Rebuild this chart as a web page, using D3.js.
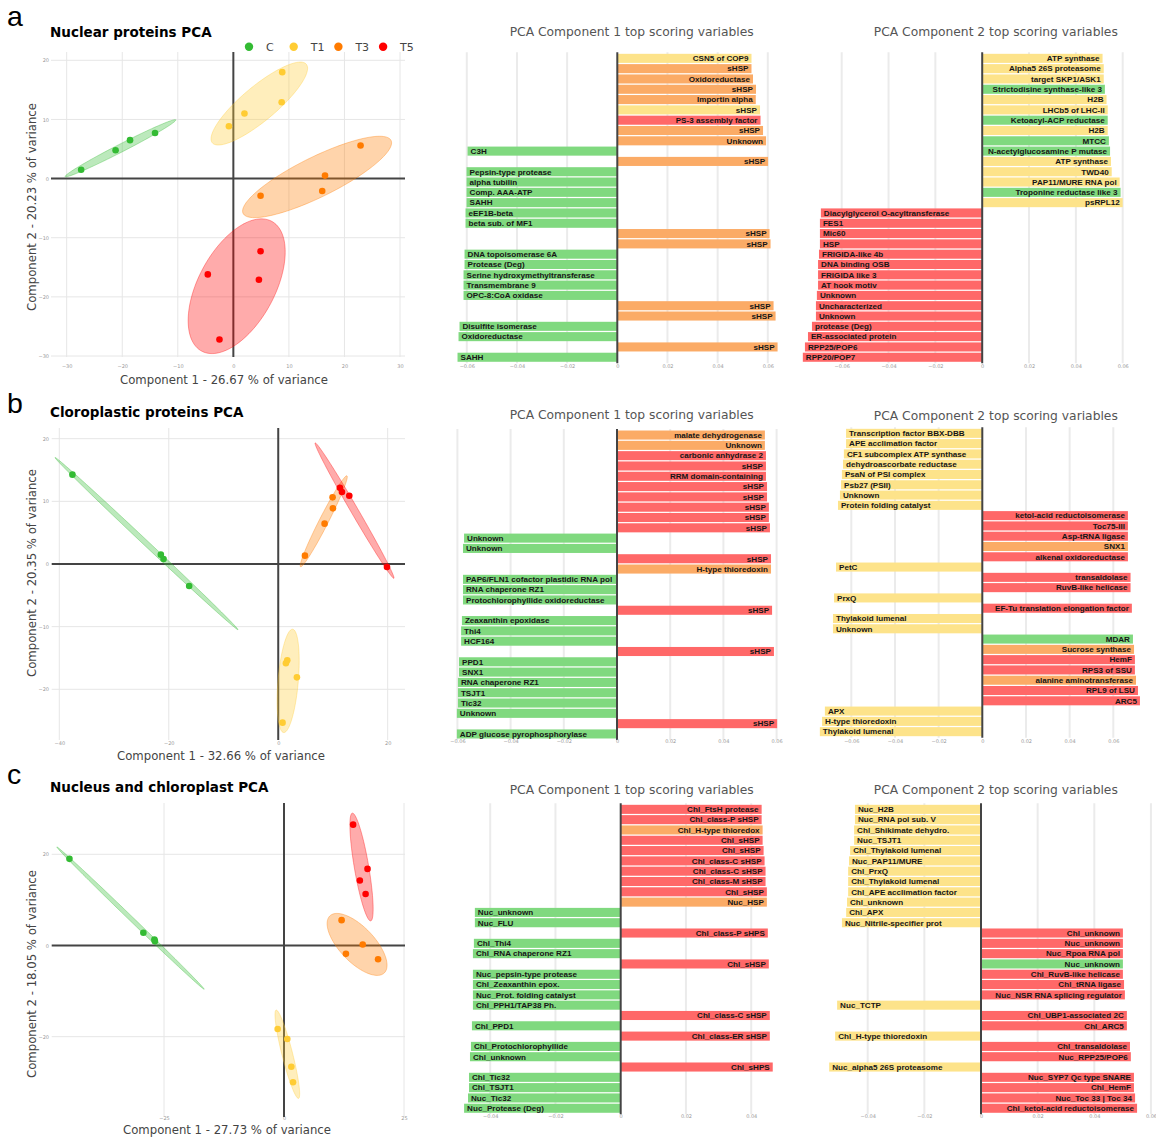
<!DOCTYPE html>
<html>
<head>
<meta charset="utf-8">
<script src="https://cdn.jsdelivr.net/npm/d3@7"></script>
<style>
  body { margin: 0; background: #fff; }
  svg { display: block; }
</style>
</head>
<body>
<svg id="fig" width="1156" height="1138"></svg>
<script>
// ---------- treatment groups ----------
const groupNames = ["C", "T1", "T3", "T5"];
const sampleGroup = ["C","C","C","C","T1","T1","T1","T1","T3","T3","T3","T3","T5","T5","T5","T5"];

// ---------- PCA scores (one value per sample, order as sampleGroup) ----------
const nuclearPC1 = [-27.4,-21.2,-18.6,-14.1, 8.8,8.7,2.0,-0.8, 22.9,16.5,16.0,4.9, 4.9,4.6,-4.6,-2.5];
const nuclearPC2 = [1.5,4.8,6.5,7.7, 18.0,12.9,11.0,8.85, 5.6,0.5,-2.1,-2.9, -12.3,-17.1,-16.2,-27.2];

const chloroPC1 = [-37.6,-21.45,-20.96,-16.27, 1.65,1.40,3.41,0.79, 9.93,9.99,8.47,4.88, 11.27,11.64,12.98,19.87];
const chloroPC2 = [14.26,1.49,0.80,-3.51, -15.37,-15.85,-18.09,-25.32, 10.64,8.88,6.44,1.33, 12.18,11.49,10.9,-0.48];

const combinedPC1 = [-44.7,-29.3,-27.0,-26.9, -1.32,0.69,1.53,1.88, 12.0,16.4,12.9,19.6, 14.4,17.4,15.8,17.0];
const combinedPC2 = [19.0,2.78,1.3,0.95, -18.3,-20.5,-26.6,-30.0, 5.56,0.22,-1.83,-3.0, 26.5,16.8,14.25,11.3];

// ---------- top scoring variables (loadings) ----------
const nucComp1Labels = ["CSN5 of COP9","sHSP","Oxidoreductase","sHSP","Importin alpha","sHSP","PS-3 assembly factor","sHSP","Unknown","C3H","sHSP","Pepsin-type protease","alpha tubilin","Comp. AAA-ATP","SAHH","eEF1B-beta","beta sub. of MF1","sHSP","sHSP","DNA topoisomerase 6A","Protease (Deg)","Serine hydroxymethyltransferase","Transmembrane 9","OPC-8:CoA oxidase","sHSP","sHSP","Disulfite isomerase","Oxidoreductase","sHSP","SAHH"];
const nucComp1Values = [0.0535,0.0535,0.0541,0.0553,0.0552,0.0569,0.0571,0.0581,0.0593,-0.0597,0.0601,-0.0601,-0.0601,-0.0601,-0.0601,-0.0605,-0.0605,0.0607,0.0611,-0.0609,-0.0609,-0.0613,-0.0613,-0.0613,0.0623,0.0631,-0.0629,-0.0633,0.0639,-0.0637];
const nucComp1Groups = ["T1","T3","T3","T3","T3","T1","T5","T3","T3","C","T3","C","C","C","C","C","C","T3","T3","C","C","C","C","C","T3","T3","C","C","T3","C"];

const nucComp2Labels = ["ATP synthase","Alpha5 26S proteasome","target SKP1/ASK1","Strictodisine synthase-like 3","H2B","LHCb5 of LHC-II","Ketoacyl-ACP reductase","H2B","MTCC","N-acetylglucosamine P mutase","ATP synthase","TWD40","PAP11/MURE RNA pol","Troponine reductase like 3","psRPL12","Diacylglycerol O-acyltransferase","FES1","Mic60","HSP","FRIGIDA-like 4b","DNA binding OSB","FRIGIDA like 3","AT hook motiv","Unknown","Uncharacterized","Unknown","protease (Deg)","ER-associated protein","RPP25/POP6","RPP20/POP7"];
const nucComp2Values = [0.0514,0.0519,0.0519,0.0524,0.0531,0.0536,0.0536,0.0536,0.0541,0.0546,0.055,0.0553,0.0587,0.0591,0.060,-0.0689,-0.0693,-0.0693,-0.0693,-0.0697,-0.0701,-0.0701,-0.0701,-0.0706,-0.071,-0.071,-0.0727,-0.0744,-0.0757,-0.0766];
const nucComp2Groups = ["T1","T1","T1","C","T1","T1","C","T1","C","C","T1","T1","T1","C","T1","T5","T5","T5","T5","T5","T5","T5","T5","T5","T5","T5","T5","T5","T5","T5"];

const chlComp1Labels = ["malate dehydrogenase","Unknown","carbonic anhydrase 2","sHSP","RRM domain-containing","sHSP","sHSP","sHSP","sHSP","sHSP","Unknown","Unknown","sHSP","H-type thioredoxin","PAP6/FLN1 cofactor plastidic RNA pol","RNA chaperone RZ1","Protochlorophyllide oxidoreductase","sHSP","Zeaxanthin epoxidase","Thi4","HCF164","sHSP","PPD1","SNX1","RNA chaperone RZ1","TSJT1","Tic32","Unknown","sHSP","ADP glucose pyrophosphorylase"];
const chlComp1Values = [0.0556,0.0556,0.056,0.056,0.056,0.0564,0.0564,0.0571,0.0571,0.0575,-0.0575,-0.0579,0.0579,0.0579,-0.0579,-0.0579,-0.0579,0.0583,-0.0583,-0.0586,-0.0586,0.059,-0.0594,-0.0594,-0.0598,-0.0598,-0.0598,-0.0602,0.0602,-0.0602];
const chlComp1Groups = ["T3","T3","T5","T5","T5","T5","T5","T5","T5","T5","C","C","T5","T3","C","C","C","T5","C","C","C","T5","C","C","C","C","C","C","T5","C"];

const chlComp2Labels = ["Transcription factor BBX-DBB","APE acclimation factor","CF1 subcomplex ATP synthase","dehydroascorbate reductase","PsaN of PSI complex","Psb27 (PSII)","Unknown","Protein folding catalyst","ketol-acid reductoisomerase","Toc75-III","Asp-tRNA ligase","SNX1","alkenal oxidoreductase","PetC","transaldolase","RuvB-like helicase","PrxQ","EF-Tu translation elongation factor","Thylakoid lumenal","Unknown","MDAR","Sucrose synthase","HemF","RPS3 of SSU","alanine aminotransferase","RPL9 of LSU","ARC5","APX","H-type thioredoxin","Thylakoid lumenal"];
const chlComp2Values = [-0.0624,-0.0624,-0.0634,-0.0638,-0.0643,-0.0647,-0.0652,-0.0661,0.0667,0.0667,0.0667,0.0667,0.0667,-0.067,0.0679,0.0679,-0.0679,0.0685,-0.0684,-0.0684,0.069,0.0695,0.0699,0.0699,0.0704,0.0713,0.0722,-0.0721,-0.0734,-0.0744];
const chlComp2Groups = ["T1","T1","T1","T1","T1","T1","T1","T1","T5","T5","T5","T3","T5","T1","T5","T5","T1","T5","T1","T1","C","T3","T5","T5","T3","T5","T5","T1","T1","T1"];

const ncComp1Labels = ["Chl_FtsH protease","Chl_class-P sHSP","Chl_H-type thioredox","Chl_sHSP","Chl_sHSP","Chl_class-C sHSP","Chl_class-C sHSP","Chl_class-M sHSP","Chl_sHSP","Nuc_HSP","Nuc_unknown","Nuc_FLU","Chl_class-P sHPS","Chl_Thi4","Chl_RNA chaperone RZ1","Chl_sHSP","Nuc_pepsin-type protease","Chl_Zeaxanthin epox.","Nuc_Prot. folding catalyst","Chl_PPH1/TAP38 Ph.","Chl_class-C sHSP","Chl_PPD1","Chl_class-ER sHSP","Chl_Protochlorophyllide","Chl_unknown","Chl_sHPS","Chl_Tic32","Chl_TSJT1","Nuc_Tic32","Nuc_Protease (Deg)"];
const ncComp1Values = [0.0432,0.0432,0.0435,0.0435,0.0438,0.0441,0.0444,0.0444,0.0448,0.0448,-0.0447,-0.0447,0.0451,-0.045,-0.0453,0.0454,-0.0453,-0.0453,-0.0453,-0.0453,0.0457,-0.0456,0.0457,-0.0459,-0.0462,0.0466,-0.0465,-0.0465,-0.0468,-0.048];
const ncComp1Groups = ["T5","T5","T3","T5","T5","T5","T5","T5","T5","T3","C","C","T5","C","C","T5","C","C","C","C","T5","C","T5","C","C","T5","C","C","C","C"];

const ncComp2Labels = ["Nuc_H2B","Nuc_RNA pol sub. V","Chl_Shikimate dehydro.","Nuc_TSJT1","Chl_Thylakoid lumenal","Nuc_PAP11/MURE","Chl_PrxQ","Chl_Thylakoid lumenal","Chl_APE acclimation factor","Chl_unknown","Chl_APX","Nuc_Nitrile-specifier prot","Chl_unknown","Nuc_unknown","Nuc_Rpoa RNA pol","Nuc_unknown","Chl_RuvB-like helicase","Chl_tRNA ligase","Nuc_NSR RNA splicing regulator","Nuc_TCTP","Chl_UBP1-associated 2C","Chl_ARC5","Chl_H-type thioredoxin","Chl_transaldolase","Nuc_RPP25/POP6","Nuc_alpha5 26S proteasome","Nuc_SYP7 Qc type SNARE","Chl_HemF","Nuc_Toc 33 | Toc 34","Chl_ketol-acid reductoisomerase"];
const ncComp2Values = [-0.0445,-0.0445,-0.0448,-0.0448,-0.0462,-0.0466,-0.0469,-0.0469,-0.0469,-0.0473,-0.0476,-0.0491,0.0501,0.0501,0.0501,0.0501,0.0501,0.0505,0.0508,-0.0508,0.0515,0.0515,-0.0515,0.0526,0.0529,-0.0536,0.054,0.054,0.0544,0.0551];
const ncComp2Groups = ["T1","T1","T1","T1","T1","T1","T1","T1","T1","T1","T1","T1","T5","T5","T5","C","T5","T5","T5","T1","T5","T5","T1","T5","T5","T1","T5","T5","T5","T5"];

// ---------- axis ticks ----------
const nuclearXTicks = [-30,-20,-10,0,10,20,30];
const nuclearYTicks = [-30,-20,-10,0,10,20];
const chloroXTicks = [-40,-20,0,20];
const chloroYTicks = [-20,-10,0,10,20];
const combinedXTicks = [-25,0,25];
const combinedYTicks = [-20,0,20];
const loadingTicks6 = [-0.06,-0.04,-0.02,0,0.02,0.04,0.06];
const loadingTicksNC1 = [-0.04,-0.02,0,0.02,0.04];
const loadingTicksNC2 = [-0.04,-0.02,0,0.02,0.04,0.06];

// ---------- styling ----------
const pointColor = { C: "#33bb33", T1: "#ffcc33", T3: "#ff7b00", T5: "#ff0000" };
const barColor   = { C: "#80d97f", T1: "#fde38a", T3: "#fbab66", T5: "#ff6868" };
const ELLIPSE_LEVEL = 0.8;
const FONT = "'DejaVu Sans', Verdana, sans-serif";
const BAR_FONT = "'Liberation Sans', Arial, sans-serif";

const svg = d3.select("#fig");

// panel letters
[["a", 26], ["b", 413], ["c", 783.5]].forEach(([t, y]) => {
  svg.append("text").attr("x", 7).attr("y", y)
    .attr("font-family", BAR_FONT).attr("font-size", 28.5).attr("fill", "#000").text(t);
});

// ---------- confidence ellipse from sample covariance ----------
function ellipsePoints(xs, ys, level) {
  const n = xs.length;
  const mx = d3.mean(xs), my = d3.mean(ys);
  let sxx = 0, syy = 0, sxy = 0;
  for (let i = 0; i < n; i++) {
    const dx = xs[i] - mx, dy = ys[i] - my;
    sxx += dx * dx; syy += dy * dy; sxy += dx * dy;
  }
  sxx /= (n - 1); syy /= (n - 1); sxy /= (n - 1);
  const tr = sxx + syy, det = sxx * syy - sxy * sxy;
  const disc = Math.sqrt(Math.max(0, tr * tr / 4 - det));
  const l1 = tr / 2 + disc, l2 = Math.max(0, tr / 2 - disc);
  const theta = Math.atan2(l1 - sxx, sxy === 0 ? 1e-12 : sxy);
  const k = Math.sqrt(-2 * Math.log(1 - level));
  const a = k * Math.sqrt(l1), b = k * Math.sqrt(l2);
  const c = Math.cos(theta), s = Math.sin(theta);
  return d3.range(0, 361, 3).map(deg => {
    const t = deg * Math.PI / 180;
    const u = a * Math.cos(t), v = b * Math.sin(t);
    return [mx + u * c - v * s, my + u * s + v * c];
  });
}

// ---------- PCA score plot ----------
function scorePlot(cfg, idx) {
  const g = svg.append("g");
  const x = d3.scaleLinear().domain(cfg.xRef).range(cfg.xPx);
  const y = d3.scaleLinear().domain(cfg.yRef).range(cfg.yPx);
  const clipId = "clip" + idx;
  svg.append("clipPath").attr("id", clipId).append("rect")
    .attr("x", cfg.left).attr("y", cfg.top)
    .attr("width", cfg.right - cfg.left).attr("height", cfg.bottom - cfg.top);

  // grid
  g.selectAll(".vg").data(cfg.xTicks.filter(d => d !== 0)).join("line")
    .attr("x1", d => x(d)).attr("x2", d => x(d)).attr("y1", cfg.top).attr("y2", cfg.bottom)
    .attr("stroke", "#e6e6e6").attr("stroke-width", 1);
  g.selectAll(".hg").data(cfg.yTicks.filter(d => d !== 0)).join("line")
    .attr("y1", d => y(d)).attr("y2", d => y(d)).attr("x1", cfg.left).attr("x2", cfg.right)
    .attr("stroke", "#e6e6e6").attr("stroke-width", 1);

  // tick labels
  const xa = g.append("g").attr("transform", `translate(0,${cfg.xTickY})`)
    .call(d3.axisBottom(x).tickValues(cfg.xTicks).tickSize(0).tickPadding(0).tickFormat(d3.format("d")));
  const ya = g.append("g").attr("transform", `translate(${cfg.yTickX},0)`)
    .call(d3.axisLeft(y).tickValues(cfg.yTicks).tickSize(0).tickPadding(0).tickFormat(d3.format("d")));
  [xa, ya].forEach(a => {
    a.select(".domain").remove();
    a.selectAll("text").attr("font-family", FONT).attr("font-size", 5).attr("fill", "#999");
  });

  // zero lines
  g.append("line").attr("x1", x(0)).attr("x2", x(0)).attr("y1", cfg.top).attr("y2", cfg.bottom)
    .attr("stroke", "#444").attr("stroke-width", 2);
  g.append("line").attr("y1", y(0)).attr("y2", y(0)).attr("x1", cfg.left).attr("x2", cfg.right)
    .attr("stroke", "#444").attr("stroke-width", 2);

  // ellipses and points
  const inner = g.append("g").attr("clip-path", `url(#${clipId})`);
  const line = d3.line().x(d => x(d[0])).y(d => y(d[1])).curve(d3.curveLinearClosed);
  groupNames.forEach(grp => {
    const ids = d3.range(sampleGroup.length).filter(i => sampleGroup[i] === grp);
    const pts = ellipsePoints(ids.map(i => cfg.pc1[i]), ids.map(i => cfg.pc2[i]), ELLIPSE_LEVEL);
    inner.append("path").attr("d", line(pts))
      .attr("fill", pointColor[grp]).attr("fill-opacity", 0.33)
      .attr("stroke", pointColor[grp]).attr("stroke-opacity", 0.35).attr("stroke-width", 1);
  });
  inner.selectAll("circle").data(d3.range(sampleGroup.length)).join("circle")
    .attr("cx", i => x(cfg.pc1[i])).attr("cy", i => y(cfg.pc2[i])).attr("r", 3.3)
    .attr("fill", i => pointColor[sampleGroup[i]]);

  // titles
  g.append("text").attr("x", 50).attr("y", cfg.titleY)
    .attr("font-family", FONT).attr("font-weight", "bold").attr("font-size", 13.5).attr("fill", "#000")
    .text(cfg.title);
  g.append("text").attr("x", cfg.xTitleX).attr("y", cfg.xTitleY).attr("text-anchor", "middle")
    .attr("font-family", FONT).attr("font-size", 11.7).attr("fill", "#444").text(cfg.xTitle);
  g.append("text").attr("transform", `translate(36,${cfg.yTitleY}) rotate(-90)`).attr("text-anchor", "middle")
    .attr("font-family", FONT).attr("font-size", 11.7).attr("fill", "#444").text(cfg.yTitle);
}

// ---------- loading bar chart ----------
function loadingChart(cfg) {
  const g = svg.append("g");
  const x = d3.scaleLinear().domain(cfg.ref).range(cfg.refPx);
  const n = cfg.values.length;
  const y = d3.scaleBand().domain(d3.range(n)).range([cfg.top, cfg.bottom]).paddingInner(0.12).paddingOuter(0.05);

  g.selectAll(".grid").data(cfg.ticks.filter(d => d !== 0)).join("line")
    .attr("x1", d => x(d)).attr("x2", d => x(d)).attr("y1", cfg.top - 1).attr("y2", cfg.bottom + 1)
    .attr("stroke", "#ebebeb").attr("stroke-width", 2);

  g.selectAll("rect").data(d3.range(n)).join("rect")
    .attr("x", i => Math.min(x(0), x(cfg.values[i])))
    .attr("width", i => Math.abs(x(cfg.values[i]) - x(0)))
    .attr("y", i => y(i)).attr("height", y.bandwidth())
    .attr("fill", i => barColor[cfg.groups[i]]);

  g.append("line").attr("x1", x(0)).attr("x2", x(0)).attr("y1", cfg.top - 1).attr("y2", cfg.bottom + 1)
    .attr("stroke", "#444").attr("stroke-width", 2);

  g.selectAll(".lbl").data(d3.range(n)).join("text")
    .attr("x", i => cfg.values[i] >= 0 ? x(cfg.values[i]) - 3 : x(cfg.values[i]) + 3)
    .attr("y", i => y(i) + y.bandwidth() / 2)
    .attr("dy", "0.35em")
    .attr("text-anchor", i => cfg.values[i] >= 0 ? "end" : "start")
    .attr("font-family", BAR_FONT).attr("font-weight", "bold").attr("font-size", 8.1).attr("fill", "#151515")
    .text(i => cfg.labels[i]);

  const ax = g.append("g").attr("transform", `translate(0,${cfg.tickY})`)
    .call(d3.axisBottom(x).tickValues(cfg.ticks).tickSize(0).tickPadding(0)
      .tickFormat(d => d === 0 ? "0" : d3.format(".2f")(d)));
  ax.select(".domain").remove();
  ax.selectAll("text").attr("font-family", FONT).attr("font-size", 5).attr("fill", "#999");

  g.append("text").attr("x", cfg.titleX).attr("y", cfg.titleY).attr("text-anchor", "middle")
    .attr("font-family", FONT).attr("font-size", 12.3).attr("fill", "#555")
    .text(cfg.title);
}

// ---------- row a ----------
scorePlot({
  pc1: nuclearPC1, pc2: nuclearPC2, xTicks: nuclearXTicks, yTicks: nuclearYTicks,
  xRef: [-30, 30], xPx: [66.7, 400], yRef: [-30, 20], yPx: [356, 60.3],
  left: 51, right: 405, top: 52, bottom: 357, xTickY: 364.5, yTickX: 49,
  title: "Nuclear proteins PCA", titleY: 36.7,
  xTitle: "Component 1 - 26.67 % of variance", xTitleX: 224, xTitleY: 384.3,
  yTitle: "Component 2 - 20.23 % of variance", yTitleY: 207
}, 0);

// legend
const legend = svg.append("g");
groupNames.forEach((grp, i) => {
  const cx = 249 + i * 44.7;
  legend.append("circle").attr("cx", cx).attr("cy", 46.7).attr("r", 4.2).attr("fill", pointColor[grp]);
  legend.append("text").attr("x", cx + 17).attr("y", 50.7)
    .attr("font-family", FONT).attr("font-size", 11).attr("fill", "#444").text(grp);
});

loadingChart({
  labels: nucComp1Labels, values: nucComp1Values, groups: nucComp1Groups, ticks: loadingTicks6,
  ref: [-0.06, 0.06], refPx: [466.8, 767.8], top: 53.3, bottom: 362.3, tickY: 364.5,
  title: "PCA Component 1 top scoring variables", titleX: 631.7, titleY: 36
});
loadingChart({
  labels: nucComp2Labels, values: nucComp2Values, groups: nucComp2Groups, ticks: loadingTicks6,
  ref: [-0.06, 0.06], refPx: [841.7, 1122.7], top: 53.3, bottom: 362.3, tickY: 364.5,
  title: "PCA Component 2 top scoring variables", titleX: 995.8, titleY: 36
});

// ---------- row b ----------
scorePlot({
  pc1: chloroPC1, pc2: chloroPC2, xTicks: chloroXTicks, yTicks: chloroYTicks,
  xRef: [-40, 20], xPx: [59.3, 387.7], yRef: [-20, 20], yPx: [689.3, 438.7],
  left: 51.7, right: 405, top: 428, bottom: 740, xTickY: 741, yTickX: 49,
  title: "Cloroplastic proteins PCA", titleY: 416.9,
  xTitle: "Component 1 - 32.66 % of variance", xTitleX: 221, xTitleY: 760.3,
  yTitle: "Component 2 - 20.35 % of variance", yTitleY: 573
}, 1);

loadingChart({
  labels: chlComp1Labels, values: chlComp1Values, groups: chlComp1Groups, ticks: loadingTicks6,
  ref: [-0.06, 0.06], refPx: [457.4, 776.6], top: 430, bottom: 739, tickY: 739.5,
  title: "PCA Component 1 top scoring variables", titleX: 631.7, titleY: 419.3
});
loadingChart({
  labels: chlComp2Labels, values: chlComp2Values, groups: chlComp2Groups, ticks: loadingTicks6,
  ref: [-0.06, 0.06], refPx: [851.3, 1113.3], top: 428.3, bottom: 736.7, tickY: 739.5,
  title: "PCA Component 2 top scoring variables", titleX: 995.8, titleY: 420
});

// ---------- row c ----------
scorePlot({
  pc1: combinedPC1, pc2: combinedPC2, xTicks: combinedXTicks, yTicks: combinedYTicks,
  xRef: [-25, 25], xPx: [164, 404], yRef: [-20, 20], yPx: [1036.7, 854.3],
  left: 51.7, right: 405, top: 803, bottom: 1117, xTickY: 1116, yTickX: 49,
  title: "Nucleus and chloroplast PCA", titleY: 791.9,
  xTitle: "Component 1 - 27.73 % of variance", xTitleX: 227, xTitleY: 1134.3,
  yTitle: "Component 2 - 18.05 % of variance", yTitleY: 974
}, 2);

loadingChart({
  labels: ncComp1Labels, values: ncComp1Values, groups: ncComp1Groups, ticks: loadingTicksNC1,
  ref: [-0.04, 0.04], refPx: [490.2, 751.2], top: 804.3, bottom: 1113.3, tickY: 1114.5,
  title: "PCA Component 1 top scoring variables", titleX: 631.7, titleY: 794.3
});
loadingChart({
  labels: ncComp2Labels, values: ncComp2Values, groups: ncComp2Groups, ticks: loadingTicksNC2,
  ref: [-0.04, 0.04], refPx: [867.7, 1094.3], top: 804.3, bottom: 1113.3, tickY: 1114.5,
  title: "PCA Component 2 top scoring variables", titleX: 995.8, titleY: 794.3
});
</script>
</body>
</html>
